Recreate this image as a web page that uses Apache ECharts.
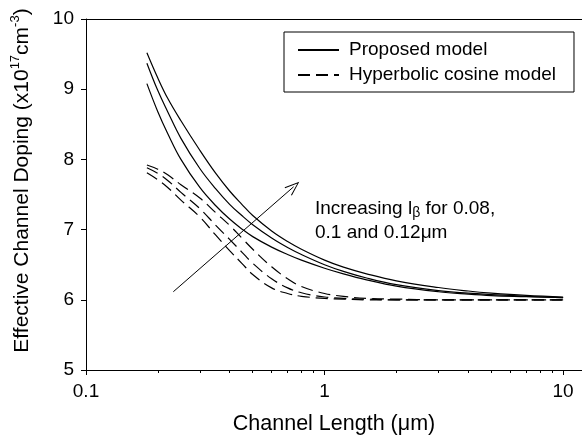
<!DOCTYPE html>
<html>
<head>
<meta charset="utf-8">
<script src="https://cdn.jsdelivr.net/npm/echarts@6/dist/echarts.min.js"></script>
<style>
html,body{margin:0;padding:0;background:#fff;}
#c{width:582px;height:441px;}
</style>
</head>
<body>
<div id="c"></div>
<script>
// Channel length (um)
const xs = [0.18, 0.2, 0.22, 0.25, 0.3, 0.35, 0.4, 0.45, 0.5, 0.6, 0.7, 0.8, 1.0, 1.2, 1.5, 2, 3, 4, 5, 7, 10];
// Proposed model (x1e17 cm^-3), three l_beta values
const propA = [9.52, 9.16, 8.87, 8.55, 8.13, 7.80, 7.55, 7.36, 7.20, 6.98, 6.83, 6.72, 6.565, 6.465, 6.37, 6.27, 6.175, 6.125, 6.095, 6.062, 6.04];
const propB = [9.37, 8.98, 8.68, 8.30, 7.87, 7.58, 7.36, 7.20, 7.07, 6.88, 6.745, 6.645, 6.50, 6.405, 6.31, 6.215, 6.13, 6.095, 6.075, 6.05, 6.03];
const propC = [9.08, 8.68, 8.37, 8.00, 7.60, 7.34, 7.15, 7.01, 6.90, 6.75, 6.645, 6.565, 6.45, 6.37, 6.285, 6.195, 6.115, 6.08, 6.06, 6.045, 6.03];
// Hyperbolic cosine model
const hypA = [7.92, 7.86, 7.78, 7.64, 7.45, 7.24, 7.06, 6.88, 6.72, 6.47, 6.30, 6.19, 6.09, 6.05, 6.02, 6.01, 6.00, 6.00, 6.00, 6.00, 6.00];
const hypB = [7.88, 7.80, 7.70, 7.53, 7.30, 7.06, 6.86, 6.68, 6.52, 6.30, 6.17, 6.10, 6.04, 6.02, 6.01, 6.00, 6.00, 6.00, 6.00, 6.00, 6.00];
const hypC = [7.81, 7.71, 7.60, 7.42, 7.18, 6.92, 6.70, 6.52, 6.36, 6.17, 6.09, 6.05, 6.02, 6.01, 6.00, 6.00, 6.00, 6.00, 6.00, 6.00, 6.00];
// axis ticks
const xMajorTicks = [0.1, 1, 10];
const xMinorTicks = [0.2, 0.3, 0.4, 0.5, 0.6, 0.7, 0.8, 0.9, 2, 3, 4, 5, 6, 7, 8, 9];
const yTicks = [5, 6, 7, 8, 9, 10];
// annotation arrow (data coords)
const arrowFrom = [0.2323, 6.115];
const arrowTo = [0.742, 7.61];

const FONT = 'Liberation Sans';
const zip = (a, b) => a.map((v, i) => [v, b[i]]);

function lineSeries(name, vals, dashed, extra) {
  return Object.assign({
    type: 'line', name: name, data: zip(xs, vals),
    xAxisIndex: 0, yAxisIndex: 0,
    symbol: 'none', smooth: 0.4,
    lineStyle: { color: '#000', width: 1.2, type: dashed ? [12, 6] : 'solid' },
    itemStyle: { color: '#000' },
    emphasis: { disabled: true }
  }, extra || {});
}

const chevron = 'path://M5.5,0 L11,15 L10,15.4 L5.5,2.6 L1,15.4 L0,15 Z';

const option = {
  animation: false,
  backgroundColor: '#fff',
  grid: { left: 86, top: 19, right: 0, bottom: 71, containLabel: false },
  legend: {
    orient: 'vertical', left: 284, top: 32,
    data: ['Proposed model', 'Hyperbolic cosine model'],
    borderColor: '#000', borderWidth: 1, borderRadius: 0,
    padding: [7, 18, 6, 13],
    itemWidth: 41, itemHeight: 14, itemGap: 3,
    selectedMode: false,
    itemStyle: { opacity: 0 },
    textStyle: { fontFamily: FONT, fontSize: 19, color: '#000', lineHeight: 22, padding: [0, 0, 0, 5] }
  },
  xAxis: [
    {
      type: 'log', logBase: 10, min: 0.1, max: 12, position: 'bottom',
      name: 'Channel Length (\u03bcm)', nameLocation: 'middle', nameGap: 43,
      nameTextStyle: { fontFamily: FONT, fontSize: 21.5, color: '#000' },
      axisLine: { show: true, lineStyle: { color: '#000', width: 1 } },
      axisTick: { show: true, inside: false, length: 5, customValues: xMajorTicks, lineStyle: { color: '#000' } },
      axisLabel: { show: true, margin: 12, customValues: xMajorTicks, fontFamily: FONT, fontSize: 19, color: '#000',
        formatter: v => String(v) },
      splitLine: { show: false }, minorTick: { show: false }
    },
    {
      type: 'log', logBase: 10, min: 0.1, max: 12, position: 'bottom',
      axisLine: { show: false },
      axisTick: { show: true, inside: false, length: 3, customValues: xMinorTicks, lineStyle: { color: '#000' } },
      axisLabel: { show: false },
      splitLine: { show: false }
    },
    {
      type: 'log', logBase: 10, min: 0.1, max: 12, position: 'top',
      axisLine: { show: true, lineStyle: { color: '#000', width: 1 } },
      axisTick: { show: false }, axisLabel: { show: false }, splitLine: { show: false }
    }
  ],
  yAxis: [
    {
      type: 'value', min: 5, max: 10, interval: 1,
      name: '{a|Effective Channel Doping (x10}{s|17}{a|cm}{s|-3}{a|)}',
      nameLocation: 'middle', nameGap: 53,
      nameTextStyle: {
        fontFamily: FONT, fontSize: 21, color: '#000', padding: [0, 0, 0, 28],
        rich: {
          a: { fontFamily: FONT, fontSize: 21, color: '#000', lineHeight: 24, verticalAlign: 'bottom' },
          s: { fontFamily: FONT, fontSize: 13, color: '#000', lineHeight: 24, verticalAlign: 'top' }
        }
      },
      axisLine: { show: true, lineStyle: { color: '#000', width: 1 } },
      axisTick: { show: true, inside: false, length: 5, lineStyle: { color: '#000' } },
      axisLabel: { margin: 12, fontFamily: FONT, fontSize: 19, color: '#000',
        customValues: yTicks },
      splitLine: { show: false }
    }
  ],
  graphic: [
    {
      type: 'text', left: 315, top: 199, silent: true,
      style: {
        text: '{a|Increasing l}{s|\u03b2}{a| for 0.08,}\n{a|0.1 and 0.12\u03bcm}',
        fill: '#000',
        rich: {
          a: { fontFamily: FONT, fontSize: 19, fill: '#000', lineHeight: 24, verticalAlign: 'middle' },
          s: { fontFamily: FONT, fontSize: 14, fill: '#000', lineHeight: 24, verticalAlign: 'bottom', padding: [0, 0, 0, 0] }
        }
      }
    }
  ],
  series: [
    lineSeries('Proposed model', propA, false, {
      markLine: {
        silent: true, animation: false,
        symbol: ['none', chevron], symbolSize: [11, 15],
        lineStyle: { color: '#000', width: 1, type: 'solid' },
        label: { show: false },
        emphasis: { disabled: true },
        data: [[{ coord: arrowFrom }, { coord: arrowTo }]]
      }
    }),
    lineSeries('Proposed model', propB, false),
    lineSeries('Proposed model', propC, false),
    lineSeries('Hyperbolic cosine model', hypA, true),
    lineSeries('Hyperbolic cosine model', hypB, true),
    lineSeries('Hyperbolic cosine model', hypC, true)
  ]
};

const chart = echarts.init(document.getElementById('c'), null, { renderer: 'canvas' });
chart.setOption(option);
</script>
</body>
</html>
